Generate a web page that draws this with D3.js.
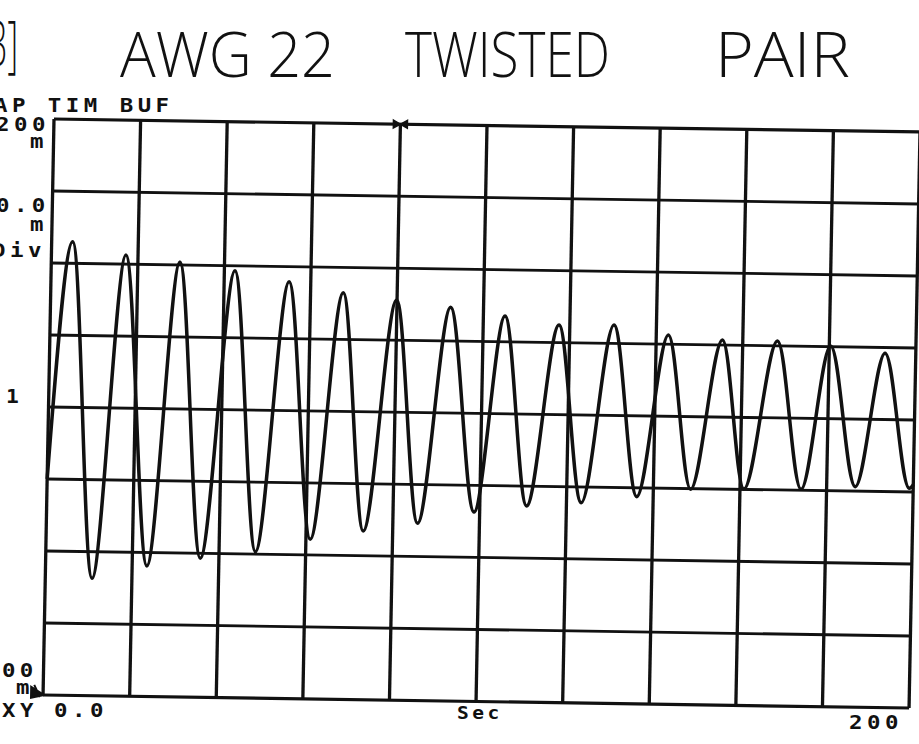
<!DOCTYPE html>
<html>
<head>
<meta charset="utf-8">
<script src="https://cdn.jsdelivr.net/npm/d3@7"></script>
<style>
  html, body { margin: 0; padding: 0; background: #fff; }
  svg { display: block; }
  .plot-text { font-family: "DejaVu Sans Mono", monospace; font-weight: bold; fill: #111; }
  .hand { font-family: "Open Sans", "DejaVu Sans", sans-serif; font-weight: 300; fill: #111; }
</style>
</head>
<body>
<svg id="chart" width="919" height="744"></svg>
<script>
// Time buffer trace: alternating extremes of the ringing response (seconds, millivolts)
const traceTime = [
  0.0, 4.85, 10.8, 17.2, 23.4, 29.7, 35.7, 42.45, 48.4, 55.0, 61.0,
  67.55, 73.2, 79.9, 85.7, 92.4, 98.7, 105.0, 110.8, 117.5, 123.4,
  130.2, 136.2, 142.8, 148.6, 155.3, 160.9, 168.0, 174.1, 180.3, 186.6,
  192.9, 199.1, 200.0
];
const traceMilliVolts = [
  -50, 115.0, -118.5, 106.3, -109.4, 102.0, -103.5, 96.6, -98.3, 89.5, -89.1,
  82.4, -82.8, 77.9, -76.9, 73.4, -68.5, 67.9, -63.7, 62.2, -60.9,
  62.8, -56.1, 56.4, -50.4, 53.5, -49.7, 53.4, -49.3, 50.5, -46.9,
  46.0, -47.5, -45
];

// Graticule divisions
const timeTicks = [0, 20, 40, 60, 80, 100, 120, 140, 160, 180, 200];
const voltTicks = [-200, -150, -100, -50, 0, 50, 100, 150, 200];
const markerTime = 80;

// Annotation text around the screen
const titleWords = ["[3]", "AWG 22", "TWISTED", "PAIR"];
const headerLabel = "AP TIM BUF";
const topLabel = "200";
const unitLabel = "m";
const scaleLabel = "50.0";
const perDivLabel = "Div";
const channelLabel = "1";
const bottomLabel = "-200";
const modeLabel = "XY";
const xStartLabel = "0.0";
const xUnitLabel = "Sec";
const xEndLabel = "200";

const W = 866, H = 576;
const svg = d3.select("#chart");
svg.append("rect").attr("width", 919).attr("height", 744).attr("fill", "#fff");

const x = d3.scaleLinear().domain([0, 200]).range([0, W]);
const y = d3.scaleLinear().domain([-200, 200]).range([H, 0]);

// The plotted sheet sits slightly skewed on the page
const plot = svg.append("g")
  .attr("transform", "matrix(1, 0.015, -0.019, 1, 54, 119)");

// Graticule
plot.append("g").selectAll("line")
  .data(voltTicks)
  .join("line")
  .attr("x1", 0).attr("x2", W)
  .attr("y1", d => y(d)).attr("y2", d => y(d))
  .attr("stroke", "#111")
  .attr("stroke-width", d => (d === -200 || d === 200) ? 3.2 : 2.8);

plot.append("g").selectAll("line")
  .data(timeTicks)
  .join("line")
  .attr("x1", d => x(d)).attr("x2", d => x(d))
  .attr("y1", 0).attr("y2", H)
  .attr("stroke", "#111")
  .attr("stroke-width", 3.3);

// Trace
const line = d3.line()
  .x((d, i) => x(traceTime[i]))
  .y(d => y(d))
  .curve(d3.curveMonotoneX);

plot.append("path")
  .datum(traceMilliVolts)
  .attr("d", line)
  .attr("fill", "none")
  .attr("stroke", "#111")
  .attr("stroke-width", 3.5)
  .attr("stroke-linejoin", "round");

// Marker on the top edge
plot.append("path")
  .attr("transform", `translate(${x(markerTime)},${y(200)})`)
  .attr("d", "M-7,-4 L0,0 L-7,4 Z M7,-4 L0,0 L7,4 Z")
  .attr("fill", "#111")
  .attr("stroke", "#111")
  .attr("stroke-width", 1.5);

// Reference marker at the lower left corner
plot.append("path")
  .attr("transform", `translate(${x(0)},${y(-200)})`)
  .attr("d", "M-12,-8 L1,0 L-12,3 Z M-9,-10 L-3,2")
  .attr("fill", "#111")
  .attr("stroke", "#111")
  .attr("stroke-width", 2);

// Plotter-style labels: wide glyphs, drawn by stretching a monospace face
function label(txt, px, py, size, spacing, stretch) {
  svg.append("text")
    .attr("class", "plot-text")
    .attr("transform", `translate(${px},${py}) scale(${stretch || 1.12},1)`)
    .attr("font-size", size)
    .attr("letter-spacing", spacing)
    .text(txt);
}
label(headerLabel, -6, 112, 20, 4.0);
label(topLabel, -4, 131, 20, 4.0);
label(unitLabel, 30, 148, 20, 0);
label(scaleLabel, -22, 212, 20, 4.0);
label(unitLabel, 30, 231, 20, 0);
label(perDivLabel, -8, 257, 20, 4.0);
label(channelLabel, 6, 403, 19, 0);
label(bottomLabel, -34, 677, 20, 4.0);
label(unitLabel, 16, 694, 20, 0);
label(modeLabel, 2, 717, 20, 4.0);
label(xStartLabel, 54, 717, 20, 4.0);
label(xUnitLabel, 457, 719, 17, 3.0, 1.15);
label(xEndLabel, 849, 729, 20, 4.0);

// Handwritten heading
const handPos = [[-22, 66, 40], [120, 77, 215], [405, 77, 205], [715, 77, 135]];
titleWords.forEach((w, i) => {
  svg.append("text")
    .attr("class", "hand")
    .attr("x", handPos[i][0]).attr("y", handPos[i][1])
    .attr("font-size", 62)
    .attr("textLength", handPos[i][2])
    .attr("lengthAdjust", "spacingAndGlyphs")
    .text(w);
});
</script>
</body>
</html>
